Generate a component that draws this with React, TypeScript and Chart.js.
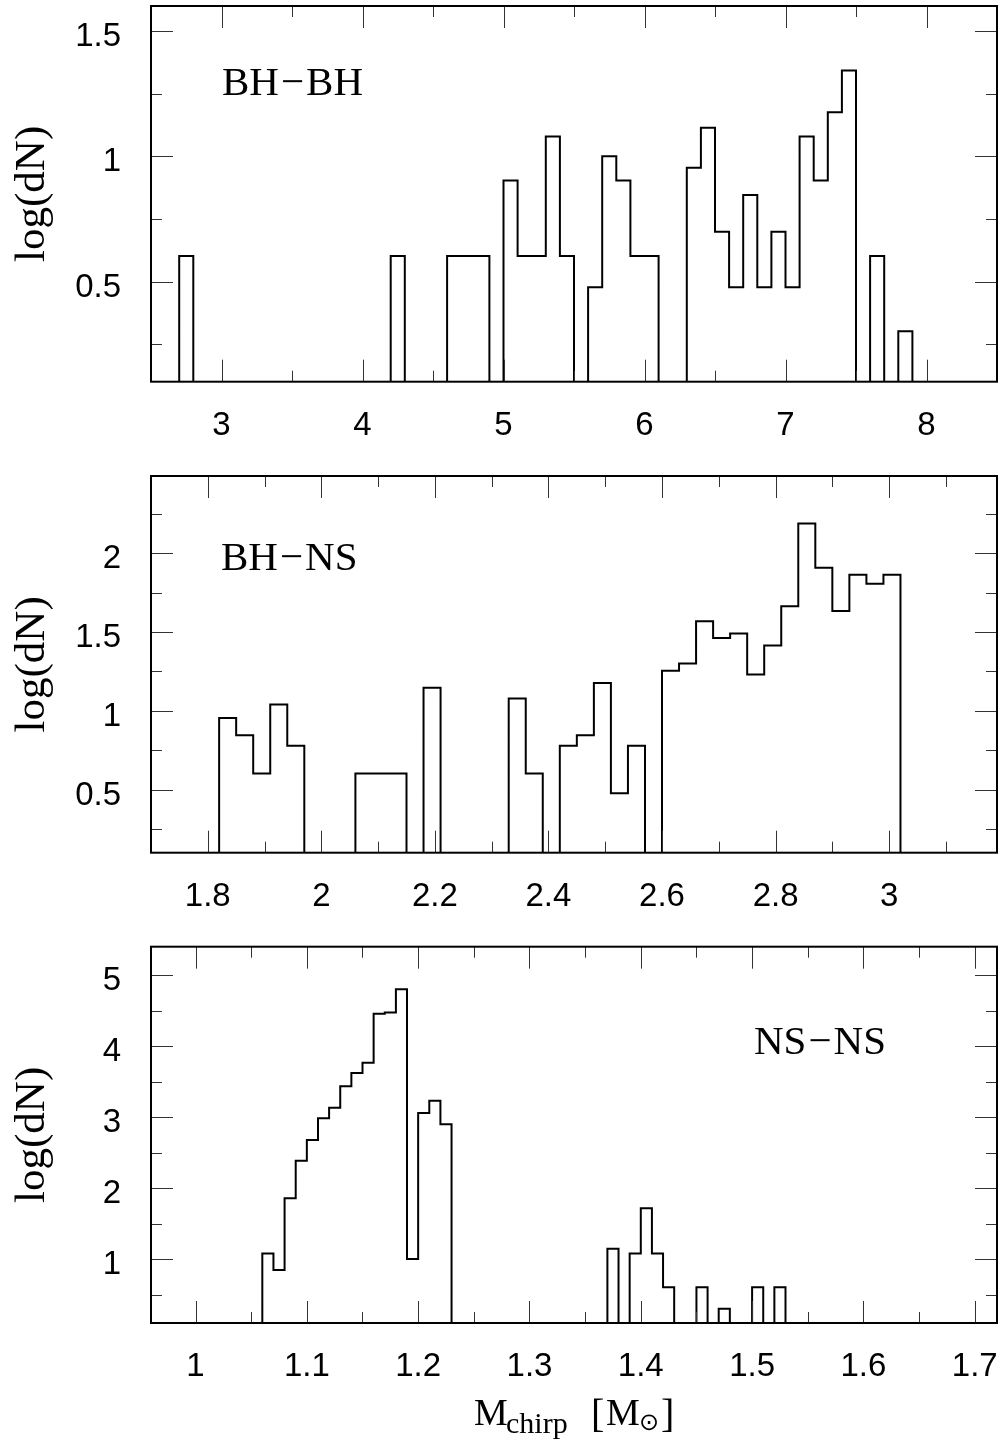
import React, { useEffect, useRef } from "react";
import { Chart, registerables } from "chart.js";
Chart.register(...registerables);

// ---------------- DATA ----------------
// log(dN) per bin; bins are contiguous, given by first lower edge and bin width.
// Empty bins are 0 (below the plotted floor).
const FLOOR = 0;

// BH-BH
const bhbhBinStart = 2.7;
const bhbhBinWidth = 0.1;
const bhbhLogN = [
  0.602, 0, 0, 0, 0, 0, 0, 0, 0, 0, 0, 0, 0, 0, 0, // 2.7 .. 4.1
  0.602, 0, 0, 0, // 4.2 .. 4.5
  0.602, 0.602, 0.602, 0, // 4.6 .. 4.9
  0.903, 0.602, 0.602, 1.079, 0.602, 0, // 5.0 .. 5.5
  0.477, 1.0, 0.903, 0.602, 0.602, 0, 0, // 5.6 .. 6.2
  0.954, 1.114, 0.699, 0.477, 0.845, 0.477, 0.699, 0.477, // 6.3 .. 7.0
  1.079, 0.903, 1.176, 1.342, 0, 0.602, 0, 0.301, // 7.1 .. 7.8
];
const bhbhXRange = [2.5, 8.5];
const bhbhYRange = [0.1, 1.6];
const bhbhXMajor = [3, 4, 5, 6, 7, 8];
const bhbhXMinor = [3.5, 4.5, 5.5, 6.5, 7.5];
const bhbhYMajor = [0.5, 1, 1.5];
const bhbhYMinor = [0.25, 0.75, 1.25];

// BH-NS
const bhnsBinStart = 1.82;
const bhnsBinWidth = 0.03;
const bhnsLogN = [
  0.954, 0.845, 0.602, 1.041, 0.778, // 1.82 .. 1.94
  0, 0, 0, // 1.97 .. 2.03
  0.602, 0.602, 0.602, 0, // 2.06 .. 2.15
  1.146, 0, 0, 0, 0, // 2.18 .. 2.30
  1.079, 0.602, 0, // 2.33 .. 2.39
  0.778, 0.845, 1.176, 0.477, 0.778, 0, // 2.42 .. 2.57
  1.255, 1.301, 1.568, 1.462, 1.491, 1.230, 1.415, 1.663, // 2.60 .. 2.81
  2.188, 1.908, 1.633, 1.863, 1.806, 1.863, // 2.84 .. 2.99
];
const bhnsXRange = [1.7, 3.19];
const bhnsYRange = [0.1, 2.49];
const bhnsXMajor = [1.8, 2, 2.2, 2.4, 2.6, 2.8, 3];
const bhnsXMinor = [1.9, 2.1, 2.3, 2.5, 2.7, 2.9, 3.1];
const bhnsYMajor = [0.5, 1, 1.5, 2];
const bhnsYMinor = [0.25, 0.75, 1.25, 1.75, 2.25];

// NS-NS
const nsnsBinStart = 1.06;
const nsnsBinWidth = 0.01;
const nsnsLogN = [
  1.079, 0.845, 1.857, 2.385, 2.677, 2.983, 3.133, 3.434, 3.622, 3.767, // 1.06 .. 1.15
  4.454, 4.473, 4.8, 1.0, 3.058, 3.231, 2.898, // 1.16 .. 1.22
  0, 0, 0, 0, 0, 0, 0, 0, 0, 0, 0, 0, 0, 0, // 1.23 .. 1.36
  1.146, 0, 1.079, 1.716, 1.079, 0.602, 0, 0, // 1.37 .. 1.44
  0.602, 0, 0.301, 0, 0, 0.602, 0, 0.602, // 1.45 .. 1.52
];
const nsnsXRange = [0.96, 1.72];
const nsnsYRange = [0.1, 5.4];
const nsnsXMajor = [1, 1.1, 1.2, 1.3, 1.4, 1.5, 1.6, 1.7];
const nsnsXMinor = [1.05, 1.15, 1.25, 1.35, 1.45, 1.55, 1.65];
const nsnsYMajor = [1, 2, 3, 4, 5];
const nsnsYMinor = [0.5, 1.5, 2.5, 3.5, 4.5];

// ---------------- HELPERS ----------------
function stepPoints(start: number, width: number, vals: number[]) {
  const pts: { x: number; y: number }[] = [{ x: start, y: FLOOR }];
  vals.forEach((v, i) => pts.push({ x: +(start + i * width).toFixed(4), y: v }));
  pts.push({ x: +(start + vals.length * width).toFixed(4), y: FLOOR });
  return pts;
}

function drawPairLabel(ctx: any, a: string, b: string, x: number, y: number) {
  const minus = "\u2212";
  const gap = 2;
  ctx.fillText(a, x, y);
  let cx = x + ctx.measureText(a).width + gap;
  ctx.fillText(minus, cx, y);
  cx += ctx.measureText(minus).width + gap;
  ctx.fillText(b, cx, y);
}

const frameTicks = {
  id: "frameTicks",
  afterDatasetsDraw(chart: any, _args: any, opts: any) {
    const { ctx, chartArea: a } = chart;
    const x = chart.scales.x;
    const y = chart.scales.y;
    ctx.save();
    ctx.strokeStyle = "#333";
    ctx.lineWidth = 1;
    const MAJ = 22;
    const MIN = 11;
    const xt = (vals: number[], len: number) =>
      vals.forEach((v) => {
        const px = Math.round(x.getPixelForValue(v)) + 0.5;
        ctx.beginPath();
        ctx.moveTo(px, a.top);
        ctx.lineTo(px, a.top + len);
        ctx.moveTo(px, a.bottom);
        ctx.lineTo(px, a.bottom - len);
        ctx.stroke();
      });
    const yt = (vals: number[], len: number) =>
      vals.forEach((v) => {
        const py = Math.round(y.getPixelForValue(v)) + 0.5;
        ctx.beginPath();
        ctx.moveTo(a.left, py);
        ctx.lineTo(a.left + len, py);
        ctx.moveTo(a.right, py);
        ctx.lineTo(a.right - len, py);
        ctx.stroke();
      });
    xt(opts.xMajor, MAJ);
    xt(opts.xMinor, MIN);
    yt(opts.yMajor, MAJ);
    yt(opts.yMinor, MIN);
    ctx.strokeStyle = "#000";
    ctx.lineWidth = 2;
    ctx.strokeRect(a.left, a.top, a.right - a.left, a.bottom - a.top);

    ctx.fillStyle = "#000";
    ctx.textBaseline = "alphabetic";
    ctx.textAlign = "left";
    ctx.font = '41px "Liberation Serif"';
    drawPairLabel(ctx, opts.labelA, opts.labelB, opts.labelX, opts.labelY);

    if (opts.xTitle) {
      ctx.font = '38px "Liberation Serif"';
      ctx.fillText("M", 474, 485);
      ctx.font = '30px "Liberation Serif"';
      ctx.fillText("chirp", 506, 493);
      ctx.font = '40px "Liberation Serif"';
      ctx.fillText("[", 591, 487);
      ctx.font = '38px "Liberation Serif"';
      ctx.fillText("M", 606, 485);
      ctx.font = '24px "DejaVu Sans"';
      ctx.textAlign = "center";
      ctx.textBaseline = "middle";
      ctx.fillText("\u2299", 649, 484);
      ctx.textAlign = "left";
      ctx.textBaseline = "alphabetic";
      ctx.font = '40px "Liberation Serif"';
      ctx.fillText("]", 661, 487);
    }
    ctx.restore();
  },
};

type PanelProps = {
  top: number;
  height: number;
  areaTop: number;
  areaBottom: number;
  start: number;
  width: number;
  vals: number[];
  xRange: number[];
  yRange: number[];
  xMajor: number[];
  xMinor: number[];
  yMajor: number[];
  yMinor: number[];
  labelA: string;
  labelB: string;
  labelX: number;
  labelY: number;
  xTitle?: boolean;
};

function zeroPadding(s: any) {
  s.paddingTop = 0;
  s.paddingBottom = 0;
  s.paddingLeft = 0;
  s.paddingRight = 0;
}

function Panel(p: PanelProps) {
  const ref = useRef<HTMLCanvasElement>(null);
  useEffect(() => {
    if (!ref.current) return;
    const tickFont = { family: '"Liberation Sans", Arial, sans-serif', size: 33 };
    const chart = new Chart(ref.current, {
      type: "line",
      data: {
        datasets: [
          {
            data: stepPoints(p.start, p.width, p.vals),
            borderColor: "#000",
            borderWidth: 2,
            pointRadius: 0,
            fill: false,
            stepped: "before",
            tension: 0,
          },
        ],
      },
      options: {
        animation: false,
        responsive: false,
        devicePixelRatio: 1,
        events: [],
        layout: { padding: { top: p.areaTop, right: 1, left: 0, bottom: 0 } },
        plugins: {
          legend: { display: false },
          tooltip: { enabled: false },
          frameTicks: {
            xMajor: p.xMajor,
            xMinor: p.xMinor,
            yMajor: p.yMajor,
            yMinor: p.yMinor,
            labelA: p.labelA,
            labelB: p.labelB,
            labelX: p.labelX,
            labelY: p.labelY,
            xTitle: !!p.xTitle,
          },
        } as any,
        scales: {
          x: {
            type: "linear",
            min: p.xRange[0],
            max: p.xRange[1],
            grid: { display: false, drawTicks: false },
            border: { display: false },
            ticks: {
              font: tickFont,
              color: "#000",
              padding: 24,
              autoSkip: false,
              maxRotation: 0,
              callback: (v: any) => String(v),
            },
            afterBuildTicks: (s: any) => {
              s.ticks = p.xMajor.map((v) => ({ value: v }));
            },
            afterFit: (s: any) => {
              s.height = p.height - p.areaBottom;
              zeroPadding(s);
            },
          },
          y: {
            type: "linear",
            min: p.yRange[0],
            max: p.yRange[1],
            grid: { display: false, drawTicks: false },
            border: { display: false },
            ticks: {
              font: tickFont,
              color: "#000",
              padding: 30,
              autoSkip: false,
              labelOffset: 6,
              callback: (v: any) => String(v),
            },
            title: {
              display: true,
              text: "log(dN)",
              color: "#000",
              font: { family: '"Liberation Serif", serif', size: 43 },
              padding: { top: 7, bottom: 0 },
            },
            afterBuildTicks: (s: any) => {
              s.ticks = p.yMajor.map((v) => ({ value: v }));
            },
            afterFit: (s: any) => {
              s.width = 151;
              zeroPadding(s);
            },
          },
        },
      } as any,
      plugins: [frameTicks as any],
    });
    return () => chart.destroy();
  }, []);
  return (
    <canvas
      ref={ref}
      width={998}
      height={p.height}
      style={{ position: "absolute", left: 0, top: p.top, width: 998, height: p.height }}
    />
  );
}

export default function App() {
  return (
    <div style={{ position: "absolute", left: 0, top: 0, width: 998, height: 1449, background: "#fff" }}>
      <Panel
        top={0}
        height={470}
        areaTop={6}
        areaBottom={381.7}
        start={bhbhBinStart}
        width={bhbhBinWidth}
        vals={bhbhLogN}
        xRange={bhbhXRange}
        yRange={bhbhYRange}
        xMajor={bhbhXMajor}
        xMinor={bhbhXMinor}
        yMajor={bhbhYMajor}
        yMinor={bhbhYMinor}
        labelA="BH"
        labelB="BH"
        labelX={222}
        labelY={95}
      />
      <Panel
        top={470}
        height={470}
        areaTop={6}
        areaBottom={382.7}
        start={bhnsBinStart}
        width={bhnsBinWidth}
        vals={bhnsLogN}
        xRange={bhnsXRange}
        yRange={bhnsYRange}
        xMajor={bhnsXMajor}
        xMinor={bhnsXMinor}
        yMajor={bhnsYMajor}
        yMinor={bhnsYMinor}
        labelA="BH"
        labelB="NS"
        labelX={221}
        labelY={100}
      />
      <Panel
        top={940}
        height={509}
        areaTop={6.7}
        areaBottom={383}
        start={nsnsBinStart}
        width={nsnsBinWidth}
        vals={nsnsLogN}
        xRange={nsnsXRange}
        yRange={nsnsYRange}
        xMajor={nsnsXMajor}
        xMinor={nsnsXMinor}
        yMajor={nsnsYMajor}
        yMinor={nsnsYMinor}
        labelA="NS"
        labelB="NS"
        labelX={754}
        labelY={114}
        xTitle
      />
    </div>
  );
}
